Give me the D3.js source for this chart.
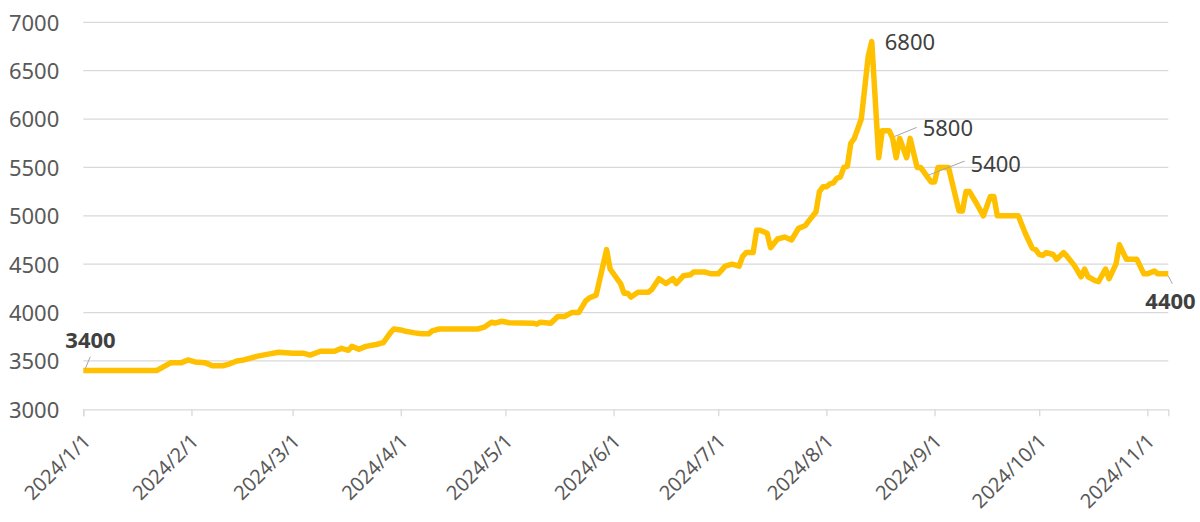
<!DOCTYPE html>
<meta charset="utf-8">
<head>
<script src="https://d3js.org/d3.v7.min.js"></script>
<style>
  body { margin: 0; background: #fff; }
  text { font-family: "Noto Sans", sans-serif; }
</style>
</head>
<body>
<div id="price_chart"></div>

<script>
// data
var dates = [
  "2024-01-01","2024-01-22","2024-01-26","2024-01-29","2024-01-31","2024-02-02","2024-02-05","2024-02-07",
  "2024-02-10","2024-02-12","2024-02-14","2024-02-16","2024-02-20","2024-02-23","2024-02-26","2024-03-01",
  "2024-03-04","2024-03-06","2024-03-09","2024-03-13","2024-03-15","2024-03-17","2024-03-18","2024-03-20",
  "2024-03-22","2024-03-25","2024-03-27","2024-03-29","2024-03-30","2024-04-01","2024-04-02","2024-04-05",
  "2024-04-07","2024-04-09","2024-04-10","2024-04-12","2024-04-23","2024-04-25","2024-04-27","2024-04-28",
  "2024-04-30","2024-05-02","2024-05-09","2024-05-10","2024-05-11","2024-05-14","2024-05-16","2024-05-18",
  "2024-05-20","2024-05-22","2024-05-24","2024-05-25","2024-05-27","2024-05-30","2024-05-31","2024-06-03",
  "2024-06-04","2024-06-05","2024-06-06","2024-06-08","2024-06-11","2024-06-12","2024-06-14","2024-06-16",
  "2024-06-18","2024-06-19","2024-06-21","2024-06-23","2024-06-24","2024-06-27","2024-06-29","2024-07-01",
  "2024-07-03","2024-07-05","2024-07-07","2024-07-08","2024-07-09","2024-07-11","2024-07-12","2024-07-13",
  "2024-07-15","2024-07-16","2024-07-18","2024-07-20","2024-07-22","2024-07-24","2024-07-26","2024-07-27",
  "2024-07-29","2024-07-30","2024-07-31","2024-08-01","2024-08-02","2024-08-03","2024-08-04","2024-08-05",
  "2024-08-06","2024-08-07","2024-08-08","2024-08-09","2024-08-11","2024-08-13","2024-08-14","2024-08-16",
  "2024-08-17","2024-08-19","2024-08-20","2024-08-21","2024-08-22","2024-08-24","2024-08-25","2024-08-27",
  "2024-08-28","2024-08-30","2024-08-31","2024-09-01","2024-09-02","2024-09-05","2024-09-08","2024-09-09",
  "2024-09-10","2024-09-11","2024-09-13","2024-09-15","2024-09-17","2024-09-18","2024-09-19","2024-09-25",
  "2024-09-27","2024-09-29","2024-09-30","2024-10-01","2024-10-02","2024-10-03","2024-10-05","2024-10-06",
  "2024-10-08","2024-10-09","2024-10-11","2024-10-13","2024-10-14","2024-10-15","2024-10-17","2024-10-18",
  "2024-10-20","2024-10-21","2024-10-23","2024-10-24","2024-10-26","2024-10-29","2024-10-31","2024-11-01",
  "2024-11-03","2024-11-04","2024-11-07"
];
var prices = [
  3400,3400,3480,3480,3510,3490,3480,3450,
  3450,3470,3500,3510,3550,3570,3590,3580,
  3580,3560,3600,3600,3630,3610,3650,3620,
  3650,3670,3690,3790,3830,3820,3810,3790,
  3780,3780,3810,3830,3830,3850,3900,3890,
  3910,3895,3890,3880,3900,3890,3960,3960,
  4000,4000,4120,4150,4180,4650,4450,4300,
  4200,4200,4160,4210,4210,4240,4350,4300,
  4350,4300,4380,4390,4420,4420,4400,4400,
  4480,4500,4480,4580,4620,4620,4850,4850,
  4820,4670,4760,4780,4750,4870,4900,4950,
  5040,5250,5300,5300,5330,5340,5390,5400,
  5500,5510,5750,5800,6000,6650,6800,5600,
  5880,5880,5800,5600,5800,5600,5800,5500,
  5500,5400,5350,5350,5500,5500,5050,5050,
  5250,5250,5130,5000,5200,5200,5000,5000,
  4820,4665,4650,4600,4590,4620,4600,4550,
  4620,4580,4490,4370,4450,4370,4330,4320,
  4450,4350,4500,4700,4550,4550,4400,4400,
  4430,4400,4400
];
var yTicks = [3000, 3500, 4000, 4500, 5000, 5500, 6000, 6500, 7000];

// labelled points: date, value, bold?
var labelDates = ["2024-01-01", "2024-08-14", "2024-08-20", "2024-08-30", "2024-11-07"];
var labelValues = [3400, 6800, 5800, 5400, 4400];
var labelBold = [true, false, false, false, true];
// label offsets from the point, and leader line ends (null = no leader)
var labelOffsets = [[-18, -23], [13, 8], [30, -2], [43, -5], [-23, 35]];
var leaders = [[[2, -2], [7, -14]], null, [[2, -2], [24, -11]], [[1, -2], [37, -16]], [[0, 2], [4, 10]]];

var parse = d3.timeParse("%Y-%m-%d");
var data = dates.map(function(d, i) { return {date: parse(d), value: prices[i]}; });

var margin = {top: 22.3, right: 31.7, bottom: 112.7, left: 83.3},
    width = 1200 - margin.left - margin.right,
    height = 522 - margin.top - margin.bottom;

var svg = d3.select("#price_chart")
  .append("svg")
    .attr("width", 1200)
    .attr("height", 522)
  .append("g")
    .attr("transform", "translate(" + margin.left + "," + margin.top + ")");

var x = d3.scaleTime()
  .domain([parse("2024-01-01"), parse("2024-11-07")])
  .range([0, width]);

var y = d3.scaleLinear()
  .domain([3000, 7000])
  .range([height, 0]);

// grid lines
svg.append("g")
  .selectAll("line")
  .data(yTicks.slice(1))
  .enter()
  .append("line")
    .attr("x1", 0)
    .attr("x2", width)
    .attr("y1", function(d) { return y(d); })
    .attr("y2", function(d) { return y(d); })
    .attr("stroke", "#d9d9d9")
    .attr("stroke-width", 1.3);

// Y axis labels
var yAxis = svg.append("g")
  .call(d3.axisLeft(y).tickValues(yTicks).tickFormat(d3.format("d")).tickSize(0).tickPadding(24));
yAxis.select(".domain").remove();
yAxis.selectAll("text")
  .attr("dy", "0.36em")
  .style("font-size", "22px")
  .style("fill", "#595959");

// X axis
var xAxis = svg.append("g")
  .attr("transform", "translate(0," + height + ")")
  .call(d3.axisBottom(x)
    .ticks(d3.timeMonth.every(1))
    .tickFormat(d3.timeFormat("%Y/%-m/%-d"))
    .tickSize(7));
xAxis.select(".domain").attr("stroke", "#d9d9d9").attr("stroke-width", 1.3);
xAxis.selectAll("line").attr("stroke", "#d9d9d9").attr("stroke-width", 1.3);
xAxis.selectAll("text")
  .attr("x", 0)
  .attr("y", 0)
  .attr("dy", 0)
  .attr("transform", "translate(8,33)rotate(-45)")
  .style("text-anchor", "end")
  .style("font-size", "20px")
  .style("fill", "#595959");

// the line
svg.append("path")
  .datum(data)
  .attr("fill", "none")
  .attr("stroke", "#ffc000")
  .attr("stroke-width", 5.5)
  .attr("stroke-linejoin", "round")
  .attr("d", d3.line()
    .x(function(d) { return x(d.date); })
    .y(function(d) { return y(d.value); }));

// data labels
labelDates.forEach(function(d, i) {
  var px = x(parse(d)), py = y(labelValues[i]);
  if (leaders[i]) {
    svg.append("line")
      .attr("x1", px + leaders[i][0][0])
      .attr("y1", py + leaders[i][0][1])
      .attr("x2", px + leaders[i][1][0])
      .attr("y2", py + leaders[i][1][1])
      .attr("stroke", "#a6a6a6")
      .attr("stroke-width", 1);
  }
  svg.append("text")
    .attr("x", px + labelOffsets[i][0])
    .attr("y", py + labelOffsets[i][1])
    .text(labelValues[i])
    .style("font-size", "22px")
    .style("font-weight", labelBold[i] ? "bold" : "normal")
    .style("fill", "#404040");
});
</script>
</body>
